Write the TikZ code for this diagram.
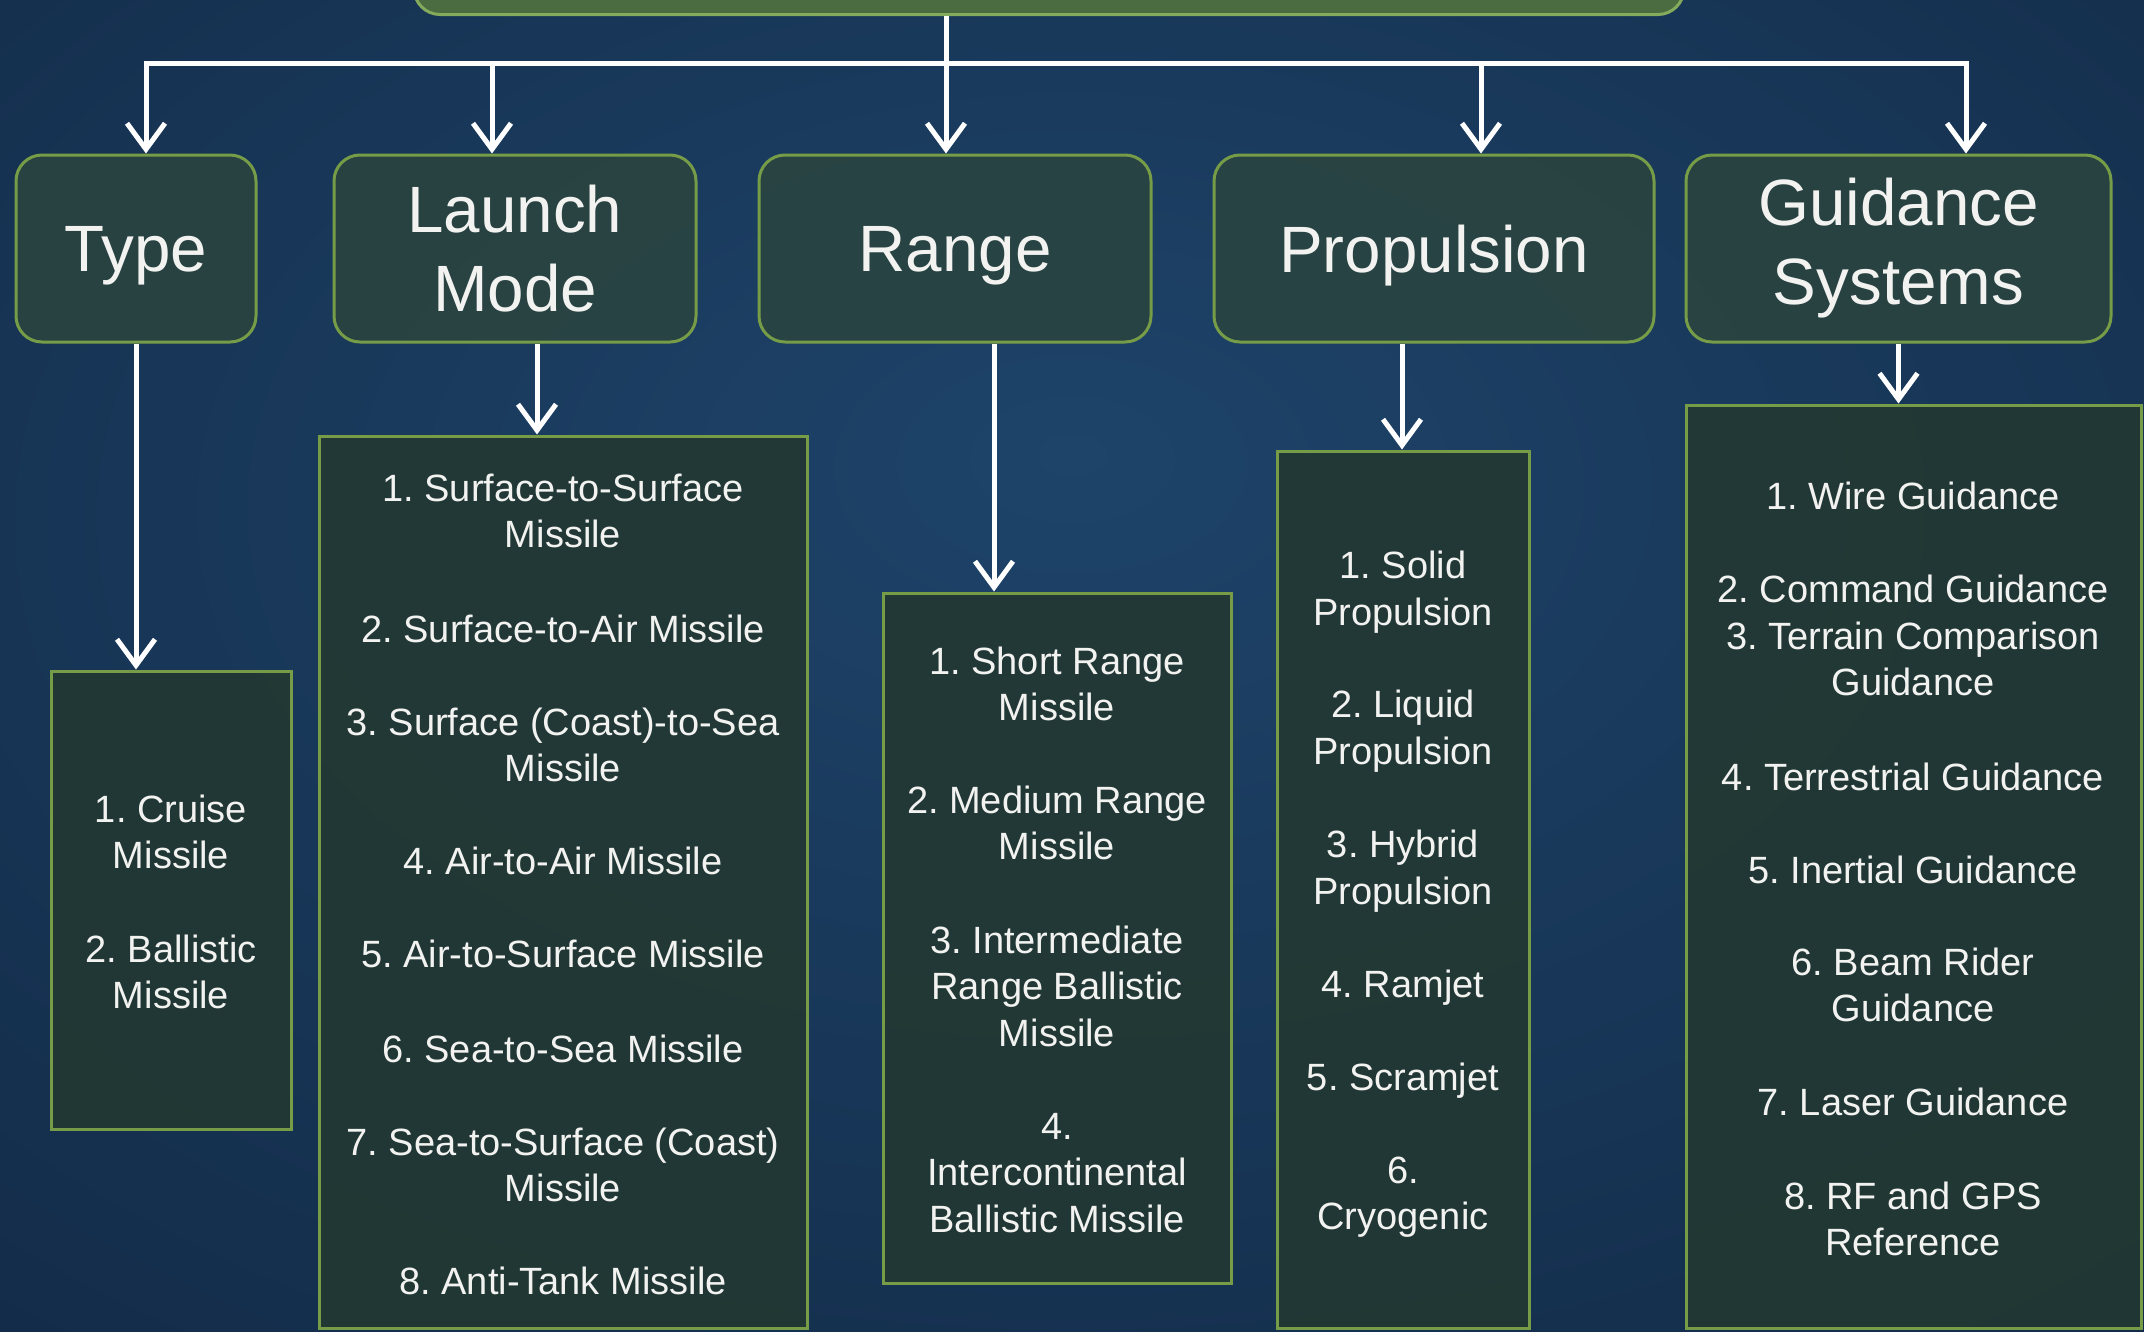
\documentclass[tikz,border=0pt]{standalone}
\usepackage{fontspec}
\setmainfont{Liberation Sans}
\frenchspacing
\usetikzlibrary{arrows.meta}
\definecolor{bgin}{RGB}{30,68,106}
\definecolor{bgmid}{RGB}{20,46,76}
\definecolor{bgout}{RGB}{9,20,34}
\pgfdeclareradialshading{bgshade}{\pgfpoint{0bp}{8bp}}{color(0bp)=(bgin); color(35bp)=(bgmid); color(75bp)=(bgout)}
\definecolor{hdrfill}{RGB}{42,68,64}
\definecolor{lstfill}{RGB}{34,56,50}
\definecolor{edgegreen}{RGB}{118,156,72}
\definecolor{rootfill}{RGB}{74,108,64}
\definecolor{rootedge}{RGB}{132,170,92}
\definecolor{txt}{RGB}{242,242,240}
\begin{document}
\begin{tikzpicture}[x=1pt,y=-1pt,
  hdr/.style={draw=edgegreen, line width=3pt, fill=hdrfill, fill opacity=0.9, text opacity=1,
    rounded corners=26pt, text=txt, align=center, font=\fontsize{65.5}{79}\selectfont, inner sep=0pt},
  lst/.style={draw=edgegreen, line width=3pt, fill=lstfill, fill opacity=0.9, inner sep=0pt},
  item/.style={text=txt, align=center, font=\fontsize{38}{46.5}\selectfont, inner sep=0pt},
  conn/.style={draw=white, line width=5pt, line join=miter},
  arr/.style={conn, -{Straight Barb[length=26pt,width=38pt]}},
]
\useasboundingbox (0,0) rectangle (2144,1331);
\clip (0,0) rectangle (2144,1331);
\shade[shading=bgshade] (0,0) rectangle (2144,1331);

% root (cut off at top)
\node[draw=rootedge, line width=3pt, fill=rootfill, rounded corners=26pt,
      minimum width=1270pt, minimum height=120pt, anchor=south, inner sep=0pt] (root) at (1049,16) {};

% headers
\node[hdr, minimum width=240pt, minimum height=187pt, text depth=0pt] (type) at (136,248.5) {Type};
\node[hdr, minimum width=362pt, minimum height=187pt] (launch) at (515,248.5) {Launch\\Mode};
\node[hdr, minimum width=392pt, minimum height=187pt, text depth=0pt] (range) at (955,248.5) {Range};
\node[hdr, minimum width=440pt, minimum height=187pt, text depth=0pt] (prop) at (1434,248.5) {Propulsion};
\node[hdr, minimum width=425pt, minimum height=187pt] (guid) at (1898.5,248.5) {Guidance\\Systems};

% list boxes
\node[lst, minimum width=240pt, minimum height=458pt] (tlist) at (171,900) {};
\node[lst, minimum width=488pt, minimum height=892pt] (llist) at (563,882) {};
\node[lst, minimum width=348pt, minimum height=690pt] (rlist) at (1057,938) {};
\node[lst, minimum width=252pt, minimum height=877pt] (plist) at (1403,889.5) {};
\node[lst, minimum width=455pt, minimum height=923pt] (glist) at (1913.5,866.5) {};

% items: type
\node[item] (t1) at (171,832) {1. Cruise\\Missile};
\node[item] (t2) at (171,972) {2. Ballistic\\Missile};
% launch mode
\node[item] (l1) at (563,511) {1. Surface-to-Surface\\Missile};
\node[item] (l2) at (563,629) {2. Surface-to-Air Missile};
\node[item] (l3) at (563,745) {3. Surface (Coast)-to-Sea\\Missile};
\node[item] (l4) at (563,861) {4. Air-to-Air Missile};
\node[item] (l5) at (563,954) {5. Air-to-Surface Missile};
\node[item] (l6) at (563,1049) {6. Sea-to-Sea Missile};
\node[item] (l7) at (563,1165) {7. Sea-to-Surface (Coast)\\Missile};
\node[item] (l8) at (563,1281) {8. Anti-Tank Missile};
% range
\node[item] (r1) at (1057,684) {1. Short Range\\Missile};
\node[item] (r2) at (1057,823) {2. Medium Range\\Missile};
\node[item] (r3) at (1057,986) {3. Intermediate\\Range Ballistic\\Missile};
\node[item] (r4) at (1057,1173) {4.\\Intercontinental\\Ballistic Missile};
% propulsion
\node[item] (p1) at (1403,592) {1. Solid\\Propulsion};
\node[item] (p2) at (1403,731) {2. Liquid\\Propulsion};
\node[item] (p3) at (1403,871) {3. Hybrid\\Propulsion};
\node[item] (p4) at (1403,988) {4. Ramjet};
\node[item] (p5) at (1403,1081) {5. Scramjet};
\node[item] (p6) at (1403,1197) {6.\\Cryogenic};
% guidance
\node[item] (g1) at (1913,496) {1. Wire Guidance};
\node[item] (g2) at (1913,589) {2. Command Guidance};
\node[item] (g3) at (1913,659) {3. Terrain Comparison\\Guidance};
\node[item] (g4) at (1913,777) {4. Terrestrial Guidance};
\node[item] (g5) at (1913,870) {5. Inertial Guidance};
\node[item] (g6) at (1913,985) {6. Beam Rider\\Guidance};
\node[item] (g7) at (1913,1102) {7. Laser Guidance};
\node[item] (g8) at (1913,1219) {8. RF and GPS\\Reference};

% top connectors
\coordinate (b1) at (146,63);
\coordinate (b2) at (492,63);
\coordinate (b4) at (1481,63);
\coordinate (b5) at (1966,63);
\draw[conn] (b2) -- (b4);
\draw[arr] (b2) -- (b1) -- (b1 |- type.north);
\draw[arr] (b4) -- (b5) -- (b5 |- guid.north);
\draw[arr] (b2) -- (b2 |- launch.north);
\draw[arr] (b4) -- (b4 |- prop.north);
\draw[arr] ([xshift=-103pt]root.south) -- ([xshift=-9pt]range.north);

% lower connectors
\coordinate (la) at ([xshift=22pt]launch.south);
\coordinate (ra) at ([xshift=39pt]range.south);
\coordinate (pa) at ([xshift=-32pt]prop.south);
\draw[arr] (type.south) -- (type.south |- tlist.north);
\draw[arr] (la) -- (la |- llist.north);
\draw[arr] (ra) -- (ra |- rlist.north);
\draw[arr] (pa) -- (pa |- plist.north);
\draw[arr] (guid.south) -- (guid.south |- glist.north);
\end{tikzpicture}
\end{document}
